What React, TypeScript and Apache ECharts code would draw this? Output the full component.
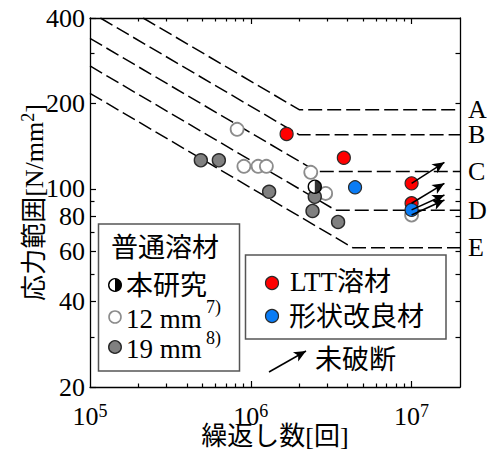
import React, { useEffect, useRef } from 'react';
import * as echarts from 'echarts';

const SERIF = "'Liberation Serif', 'Noto Sans CJK JP', serif";

// ---- axes ----
const xMin = 1e5;
const xMax = 2e7;
const yMin = 20;
const yMax = 400;
const xLabelValues = [1e5, 1e6, 1e7];
const xMajorTicks = [1e6, 1e7];
const xMinorTicks = [2e5, 3e5, 4e5, 5e5, 6e5, 7e5, 8e5, 9e5, 2e6, 3e6, 4e6, 5e6, 6e6, 7e6, 8e6, 9e6];
const yLabelValues = [20, 40, 60, 80, 100, 200, 400];
const yMinorTicks = [30, 50, 70, 90, 300];
const yRightTicks = [30, 40, 50, 60, 70, 80, 90, 100, 200, 300];

// ---- design curves (JSSC categories) ----
const categories = ['A', 'B', 'C', 'D', 'E'];
const cutoffs = [190, 155, 115, 84, 62];
const curveA = [[2.14e5, 400], [2e6, 190], [2e7, 190]];
const curveB = [[1.16e5, 400], [2e6, 155], [2e7, 155]];
const curveC = [[1e5, 339], [2.57e6, 115], [2e7, 115]];
const curveD = [[1e5, 271], [3.37e6, 84], [2e7, 84]];
const curveE = [[1e5, 217], [4.3e6, 62], [2e7, 62]];
const curves = [curveA, curveB, curveC, curveD, curveE];

// ---- test results [cycles, stress range] ----
const plain12mm = [[8.22e5, 162], [9.06e5, 120], [1.11e6, 120], [1.25e6, 120], [2.36e6, 114.3], [2.92e6, 96.3], [1e7, 80.8]];
const plain19mm = [[4.89e5, 126], [6.33e5, 126], [1.3e6, 97.6], [2.5e6, 93.7], [2.42e6, 83.5], [3.49e6, 76.4]];
const thisStudy = [[2.5e6, 101.7]];
const lttWeld = [[1.67e6, 156], [3.79e6, 128.6], [1e7, 104.5], [1e7, 88.9]];
const shapeImproved = [[4.45e6, 101.2], [1e7, 84.2]];
// run-out arrows: [start, end]
const runoutArrows = [
  [[1e7, 104.5], [1.6e7, 124]],
  [[1e7, 88.9], [1.6e7, 104.5]],
  [[1e7, 84.2], [1.6e7, 95.1]],
  [[1e7, 80.8], [1.6e7, 91.3]],
];

const baseAxis = {
  type: 'log',
  logBase: 10,
  splitLine: { show: false },
  minorTick: { show: false },
  minorSplitLine: { show: false },
};

export default function App() {
  const ref = useRef<HTMLDivElement>(null);
  useEffect(() => {
    document.body.style.margin = '0';
    if (!ref.current) return;
    const chart = echarts.init(ref.current, null, { renderer: 'svg' });
    const lineAxis = { show: true, lineStyle: { color: '#000', width: 1.3 } };
    const noLine = { show: false };
    const tickStyle = { color: '#000', width: 1.2 };

    const xAxes = [
      {
        ...baseAxis, min: xMin, max: xMax, position: 'bottom', axisLine: lineAxis,
        axisTick: { show: true, inside: true, length: 6, lineStyle: tickStyle, customValues: xMajorTicks },
        axisLabel: {
          show: true, customValues: xLabelValues, margin: 11, color: '#000',
          showMinLabel: true, showMaxLabel: true, hideOverlap: false,
          formatter: (v: number) => '{b|10}{s|' + Math.round(Math.log10(v)) + '}',
          rich: {
            b: { fontFamily: SERIF, fontSize: 26, lineHeight: 36, color: '#000' },
            s: { fontFamily: SERIF, fontSize: 18, lineHeight: 18, verticalAlign: 'top', padding: [4, 0, 0, 0], color: '#000' },
          },
        },
        name: '繰返し数[回]', nameLocation: 'middle', nameGap: 36, nameMoveOverlap: false,
        nameTextStyle: { fontFamily: SERIF, fontSize: 26, color: '#000' },
      },
      {
        ...baseAxis, min: xMin, max: xMax, position: 'bottom', axisLine: noLine,
        axisTick: { show: true, inside: true, length: 3.5, lineStyle: tickStyle, customValues: xMinorTicks },
        axisLabel: { show: false },
      },
      {
        ...baseAxis, min: xMin, max: xMax, position: 'top', axisLine: lineAxis,
        axisTick: { show: true, inside: true, length: 6, lineStyle: tickStyle, customValues: xMajorTicks },
        axisLabel: { show: false },
      },
      {
        ...baseAxis, min: xMin, max: xMax, position: 'top', axisLine: noLine,
        axisTick: { show: true, inside: true, length: 3.5, lineStyle: tickStyle, customValues: xMinorTicks },
        axisLabel: { show: false },
      },
    ];

    const categoryLabel = (v: number) => {
      let best = 0;
      cutoffs.forEach((c, i) => { if (Math.abs(c - v) < Math.abs(cutoffs[best] - v)) best = i; });
      return categories[best];
    };
    const rightLabelAxis = (values: number[]) => ({
      ...baseAxis, min: yMin, max: yMax, position: 'right', axisLine: noLine,
      axisTick: { show: false },
      axisLabel: {
        show: true, customValues: values, margin: 8, color: '#000', fontFamily: SERIF, fontSize: 26,
        showMinLabel: true, showMaxLabel: true, hideOverlap: false, formatter: categoryLabel,
      },
    });

    const yAxes = [
      {
        ...baseAxis, min: yMin, max: yMax, position: 'left', axisLine: lineAxis,
        axisTick: { show: true, inside: true, length: 6, lineStyle: tickStyle, customValues: yLabelValues },
        axisLabel: {
          show: true, customValues: yLabelValues, margin: 5, color: '#000',
          showMinLabel: true, showMaxLabel: true, hideOverlap: false,
          fontFamily: SERIF, fontSize: 26, formatter: (v: number) => String(Math.round(v)),
        },
        name: '{a|応力範囲[N/mm}{s|2}{a|]}', nameLocation: 'middle', nameGap: 41, nameMoveOverlap: false,
        nameTextStyle: {
          rich: {
            a: { fontFamily: SERIF, fontSize: 26, lineHeight: 30, color: '#000' },
            s: { fontFamily: SERIF, fontSize: 18, lineHeight: 18, verticalAlign: 'top', color: '#000' },
          },
        },
      },
      {
        ...baseAxis, min: yMin, max: yMax, position: 'left', axisLine: noLine,
        axisTick: { show: true, inside: true, length: 4.5, lineStyle: tickStyle, customValues: yMinorTicks },
        axisLabel: { show: false },
      },
      {
        ...baseAxis, min: yMin, max: yMax, position: 'right', axisLine: lineAxis,
        axisTick: { show: true, inside: true, length: 4.5, lineStyle: tickStyle, customValues: yRightTicks },
        axisLabel: { show: false },
      },
      rightLabelAxis([cutoffs[0], cutoffs[2], cutoffs[4]]),
      rightLabelAxis([cutoffs[1], cutoffs[3]]),
    ];

    const curveSeries = curves.map((c, i) => ({
      type: 'line', name: 'curve' + categories[i], data: c, symbol: 'none', clip: true,
      xAxisIndex: 0, yAxisIndex: 0, silent: true,
      lineStyle: { color: '#000', width: 1.5, type: [14, 5] },
      z: 2,
    }));

    const sc = (name: string, data: number[][], color: string, border: string, bw: number, z: number) => ({
      type: 'scatter', name, data, symbol: 'circle', symbolSize: 13, xAxisIndex: 0, yAxisIndex: 0,
      itemStyle: { color, borderColor: border, borderWidth: bw, opacity: 1 }, z,
    });

    const LF = 27;
    const option = {
      animation: false,
      grid: { left: 90, right: 27, top: 18, bottom: 71, containLabel: false, outerBoundsMode: 'none' },
      xAxis: xAxes,
      yAxis: yAxes,
      series: [
        ...curveSeries,
        sc('12 mm', plain12mm, '#ffffff', '#8c8c8c', 1.8, 3),
        sc('19 mm', plain19mm, '#808080', '#2a2a2a', 1.4, 4),
        sc('本研究', thisStudy, '#ffffff', '#000000', 1.4, 5),
        {
          type: 'scatter', name: '本研究-half', data: thisStudy, xAxisIndex: 0, yAxisIndex: 0,
          symbol: 'path://M0,0 A10,10 0 0 1 0,20 Z', symbolSize: [6.5, 13], symbolOffset: [3.25, 0],
          itemStyle: { color: '#000' }, z: 6,
        },
        sc('LTT溶材', lttWeld, '#ff0000', '#2a2a2a', 1.2, 7),
        {
          ...sc('形状改良材', shapeImproved, '#0a7cf5', '#2a2a2a', 1.2, 8),
          markLine: {
            silent: true, symbol: ['none', 'arrow'], symbolSize: [8, 12], animation: false,
            label: { show: false },
            lineStyle: { color: '#000', width: 1.5, type: 'solid' },
            data: [
              ...runoutArrows.map((a) => [{ coord: a[0] }, { coord: a[1] }]),
              [{ x: 269, y: 372 }, { x: 306, y: 351 }],
            ],
            z: 9,
          },
        },
      ],
      graphic: [
        { type: 'rect', shape: { x: 98.5, y: 224, width: 141, height: 147 }, style: { fill: '#fff', stroke: '#555', lineWidth: 1.5 }, z: 10 },
        { type: 'text', x: 165, y: 248, style: { text: '普通溶材', fontFamily: SERIF, fontSize: LF, fill: '#000', align: 'center', verticalAlign: 'middle' }, z: 11 },
        { type: 'circle', shape: { cx: 115, cy: 285, r: 6.3 }, style: { fill: '#fff', stroke: '#000', lineWidth: 1.4 }, z: 11 },
        { type: 'sector', shape: { cx: 115, cy: 285, r: 6.3, r0: 0, startAngle: -Math.PI / 2, endAngle: Math.PI / 2, clockwise: true }, style: { fill: '#000' }, z: 12 },
        { type: 'text', x: 126, y: 286, style: { text: '本研究', fontFamily: SERIF, fontSize: LF, fill: '#000', align: 'left', verticalAlign: 'middle' }, z: 11 },
        { type: 'circle', shape: { cx: 115, cy: 317, r: 6 }, style: { fill: '#fff', stroke: '#8c8c8c', lineWidth: 1.6 }, z: 11 },
        { type: 'text', x: 126, y: 319, style: { text: '12 mm', fontFamily: SERIF, fontSize: LF, fill: '#000', align: 'left', verticalAlign: 'middle' }, z: 11 },
        { type: 'text', x: 206, y: 307, style: { text: '7)', fontFamily: SERIF, fontSize: 18, fill: '#000', align: 'left', verticalAlign: 'middle' }, z: 11 },
        { type: 'circle', shape: { cx: 115, cy: 347, r: 6.3 }, style: { fill: '#808080', stroke: '#2a2a2a', lineWidth: 1.4 }, z: 11 },
        { type: 'text', x: 126, y: 349, style: { text: '19 mm', fontFamily: SERIF, fontSize: LF, fill: '#000', align: 'left', verticalAlign: 'middle' }, z: 11 },
        { type: 'text', x: 206, y: 338, style: { text: '8)', fontFamily: SERIF, fontSize: 18, fill: '#000', align: 'left', verticalAlign: 'middle' }, z: 11 },

        { type: 'rect', shape: { x: 245.5, y: 255, width: 200.5, height: 84 }, style: { fill: '#fff', stroke: '#555', lineWidth: 1.5 }, z: 10 },
        { type: 'circle', shape: { cx: 272, cy: 283, r: 6.5 }, style: { fill: '#ff0000', stroke: '#2a2a2a', lineWidth: 1.2 }, z: 11 },
        { type: 'text', x: 290, y: 282, style: { text: 'LTT溶材', fontFamily: SERIF, fontSize: LF, fill: '#000', align: 'left', verticalAlign: 'middle' }, z: 11 },
        { type: 'circle', shape: { cx: 272, cy: 316, r: 6.5 }, style: { fill: '#0a7cf5', stroke: '#2a2a2a', lineWidth: 1.2 }, z: 11 },
        { type: 'text', x: 289, y: 317, style: { text: '形状改良材', fontFamily: SERIF, fontSize: LF, fill: '#000', align: 'left', verticalAlign: 'middle' }, z: 11 },

        { type: 'text', x: 315, y: 360, style: { text: '未破断', fontFamily: SERIF, fontSize: LF, fill: '#000', align: 'left', verticalAlign: 'middle' }, z: 11 },
      ],
    };
    chart.setOption(option as any);
    return () => chart.dispose();
  }, []);
  return <div ref={ref} style={{ width: 487, height: 458 }} />;
}
